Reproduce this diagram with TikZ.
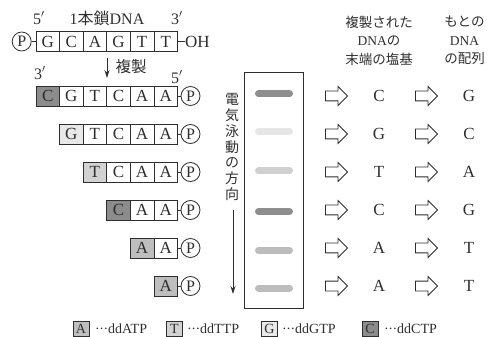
\documentclass[tikz,border=0pt]{standalone}
\usepackage{fontspec}
\setmainfont{Liberation Serif}
\newfontfamily\jp{Noto Sans CJK JP}
\usetikzlibrary{shapes.arrows,arrows.meta}
\definecolor{ink}{HTML}{2E2E2E}
\definecolor{cC}{HTML}{8C8C8C}
\definecolor{cG}{HTML}{E8E8E8}
\definecolor{cT}{HTML}{D2D2D2}
\definecolor{cA}{HTML}{BEBEBE}
\definecolor{bD}{HTML}{8E8E8E}
\definecolor{bG}{HTML}{E6E6E6}
\definecolor{bT}{HTML}{D0D0D0}
\definecolor{bA}{HTML}{BCBCBC}
\tikzset{
  cell/.style={draw=ink, line width=0.8pt, minimum width=23.6pt, minimum height=20pt,
    inner sep=0pt, text=ink, font=\fontsize{17}{17}\selectfont},
  pcirc/.style={draw=ink, circle, line width=0.8pt, minimum size=19pt, inner sep=0pt,
    text=ink, font=\fontsize{16}{16}\selectfont},
  link/.style={draw=ink, line width=0.8pt},
  blk/.style={draw=ink, single arrow, line width=0.8pt, minimum height=22pt,
    text height=4.5pt, text depth=4.5pt, text width=0pt, inner sep=0pt,
    single arrow head extend=4.5pt, fill=white},
  band/.style={line width=7pt, line cap=round},
  lab/.style={text=ink, inner sep=0pt, font=\fontsize{16}{16}\selectfont},
  base/.style={text=ink, inner sep=0pt, font=\fontsize{17}{17}\selectfont},
  head/.style={text=ink, inner sep=0pt, align=center, font=\fontsize{13.5}{18.5}\selectfont},
  legbox/.style={draw=ink, line width=0.8pt, minimum width=16pt, minimum height=15pt,
    inner sep=0pt, text=ink, font=\fontsize{14}{14}\selectfont},
  legtxt/.style={text=ink, inner sep=0pt, anchor=west, font=\fontsize{14}{14}\selectfont},
  thinarrow/.style={draw=ink, line width=0.8pt, -{Stealth[length=8pt,width=5pt]}}
}
\newcommand\dnarow[5]{%
  \foreach \L [count=\i] in {#5}{%
    \ifnum\i=1 \def\ff{#4}\else\def\ff{white}\fi
    \node[cell, fill=\ff] (#1-\i) at ({177.5-(#3-\i+0.5)*23.6}, #2) {\L};
  }%
}
\newcommand\mydots{\textperiodcentered\kern-0.5pt\textperiodcentered\kern-0.5pt\textperiodcentered}
\begin{document}
\begin{tikzpicture}[x=1pt,y=-1pt]
\useasboundingbox (0,0) rectangle (491,337);

% top strand
\dnarow{r0}{41.5}{6}{white}{G,C,A,G,T,T}
\node[pcirc] (r0-p) at (21.7,41.5) {P};
\draw[link] (r0-p.east) -- (r0-1.west);
\node[base, anchor=west] (oh) at (185,41.5) {OH};
\draw[link] (r0-6.east) -- (oh.west);
\node[lab] (t5a) at (39,18) {5$'$};
\node[lab] (t1) at (107,18) {1{\jp 本鎖}DNA};
\node[lab] (t3a) at (177,18) {3$'$};

% replication arrow
\coordinate (ra1) at (107,58);
\coordinate (ra2) at (107,78);
\draw[thinarrow] (ra1) -- (ra2);
\node[lab, font=\jp\fontsize{15.5}{16}\selectfont] (fk) at (131,67) {複製};
\node[lab] (t3b) at (40,73) {3$'$};
\node[lab] (t5b) at (177,77) {5$'$};

% replicated strands
\dnarow{r1}{96}{6}{cC}{C,G,T,C,A,A}
\dnarow{r2}{134}{5}{cG}{G,T,C,A,A}
\dnarow{r3}{172}{4}{cT}{T,C,A,A}
\dnarow{r4}{210}{3}{cC}{C,A,A}
\dnarow{r5}{248}{2}{cA}{A,A}
\dnarow{r6}{286}{1}{cA}{A}
\foreach \r/\y/\n in {r1/96/6,r2/134/5,r3/172/4,r4/210/3,r5/248/2,r6/286/1}{
  \node[pcirc] (\r-p) at (190.5,\y) {P};
  \draw[link] (\r-\n.east) -- (\r-p.west);
}

% gel
\node[draw=ink, line width=1pt, minimum width=59pt, minimum height=235pt, inner sep=0pt] (gel) at (273.5,190.5) {};
\draw[band, bD] (258.5,94) -- (289.5,94);
\draw[band, bG] (258.5,132) -- (289.5,132);
\draw[band, bT] (258.5,171) -- (289.5,171);
\draw[band, bD] (258.5,211.5) -- (289.5,211.5);
\draw[band, bA] (258.5,250.5) -- (289.5,250.5);
\draw[band, bA] (258.5,288) -- (289.5,288);

% direction
\node[text=ink, inner sep=0pt, align=center, font=\jp\fontsize{14}{15.7}\selectfont] (dir) at (232,147)
  {電\\気\\泳\\動\\の\\方\\向};
\coordinate (da1) at (233,210);
\coordinate (da2) at (233,294);
\draw[thinarrow] (da1) -- (da2);

% headers
\node[head] (h1) at (379,40.5) {{\jp 複製された}\\DNA{\jp の}\\{\jp 末端の塩基}};
\node[head] (h2) at (464.5,40.5) {{\jp もとの}\\DNA\\{\jp の配列}};

% result rows
\foreach \k/\y/\m/\o in {1/96/C/G,2/134/G/C,3/172/T/A,4/210/C/G,5/248/A/T,6/286/A/T}{
  \node[blk] (a\k) at (334,\y) {};
  \node[base] (m\k) at (379,\y) {\m};
  \node[blk] (b\k) at (424,\y) {};
  \node[base] (o\k) at (469,\y) {\o};
}

% legend
\node[legbox, fill=cA] (lA) at (81,329) {A};
\node[legtxt] (ltA) at (95,329) {\mydots ddATP};
\node[legbox, fill=cT] (lT) at (174.5,329) {T};
\node[legtxt] (ltT) at (187,329) {\mydots ddTTP};
\node[legbox, fill=cG] (lG) at (269.5,329) {G};
\node[legtxt] (ltG) at (282,329) {\mydots ddGTP};
\node[legbox, fill=cC] (lC) at (370,329) {C};
\node[legtxt] (ltC) at (384,329) {\mydots ddCTP};
\end{tikzpicture}
\end{document}
